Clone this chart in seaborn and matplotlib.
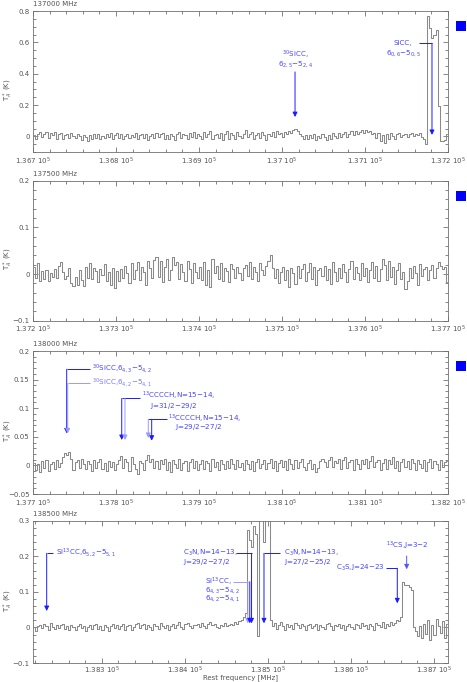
import numpy as np
import pandas as pd
import matplotlib
matplotlib.use('Agg')
import matplotlib.pyplot as plt
import seaborn as sns
from matplotlib.patches import Rectangle
from matplotlib.ticker import MultipleLocator, FuncFormatter

# band edges (MHz) and channel width
band_start = [136700, 137200, 137700, 138217]
band_label = ['137000 MHz', '137500 MHz', '138000 MHz', '138500 MHz']
chan_width = 2.5

# antenna temperature per channel (mK)
ta_137000 = [
    8, -20, 14, 25, -6, 18, 28, -12, 20, 6, 26, -15, 12, 22, -18, 10, 18, -8, 20, 3,
    -12, 15, 5, -22, 10, -4, -28, 6, -15, 12, -9, 16, -18, 5, -10, 14, -6, 20, -14, 8,
    24, -8, 15, -20, 4, 18, -12, 10, -4, 22, -16, 6, 17, -9, 12, -22, 5, 15, -10, 20,
    -6, 13, 24, -17, 8, -14, 18, 3, -24, 12, 26, -10, 15, 6, -19, 22, -4, 30, -12, 16,
    5, -16, 25, -7, 13, 32, -20, 10, 18, -9, 24, -26, 12, 35, -14, 20, 8, -17, 28, 4,
    -10, 18, 38, -5, 15, 26, -18, 7, 22, -12, 30, 10, -22, 16, 5, 25, -7, 34, 13, 20,
    -4, 26, 15, 36, 22, 40, 48, 35, 18, 3, -14, 10, -20, 7, -9, 15, -25, 5, -12, 16,
    -5, -22, 10, -15, 20, 4, -10, 23, -7, 13, 28, -4, 18, 32, 10, 36, 15, 26, 40, 22,
    42, 28, 34, 13, 24, -10, 20, -28, 7, -45, 16, -15, 24, 4, -20, 15, 22, -7, 10, 18,
    -5, 13, 21, 4, 15, 8, 20, -4, -14, -50, 770, 690, 625, 650, 680, 192, -32, -30, -24, 12,
]
ta_137500 = [
    14, -8, 24, -16, 6, -11, 8, -14, 3, -6, 11, -8, 18, 26, 4, -11, -4, 12, -20, -26,
    -7, -24, 8, -13, -25, 16, -8, 24, -11, 13, 6, -18, 11, -3, 21, -16, 4, -23, 12, -30,
    7, -16, 11, -8, 18, 3, -20, 23, -11, 8, 25, -13, 16, 5, -23, 27, 13, -8, 30, 36,
    -7, 28, -18, 16, 32, -13, 8, 37, 20, 25, -11, 21, 4, -16, 27, 11, -20, 23, 5, -8,
    16, -13, 25, -23, 8, -28, 32, 3, 18, -11, 23, -16, 13, 7, -18, 21, 11, -8, 16, 3,
    -13, 12, 20, -5, 25, -11, 16, 4, -16, 23, 8, -3, 18, 27, 40, 13, -8, 11, -20, 5,
    16, -13, 8, -28, 13, 3, -21, 18, -8, 11, 21, -16, 5, 23, -11, 16, -23, 8, 13, -5,
    18, -13, 11, -21, 25, 4, -16, 13, -8, 21, 5, -18, 11, 27, -11, 16, 3, -13, 23, -5,
    13, -18, 8, 25, -8, 18, -16, 11, 32, 20, -13, 27, -7, 16, -21, 8, 23, -11, 5, -32,
    -16, 13, -8, 18, 3, -23, 21, -5, 11, 16, -13, 8, 20, -8, 13, 26, 18, 11, 16, -18,
]
ta_138000 = [
    5, -8, 3, -12, 8, -4, 10, -10, 2, 6, -6, 9, -3, 4, 15, 22, 18, 24, 12, -8,
    6, 10, -5, 12, 3, -7, 8, 2, -9, 10, -4, 6, 12, -6, 4, -10, 8, -2, 6, -8,
    3, 10, 16, -4, 12, 6, -10, 14, 2, -6, -15, 8, 4, -8, 10, 18, 6, 12, -4, 8,
    -6, 10, 2, 12, -8, 6, -12, 9, 3, -5, 11, -8, 4, 7, -10, 6, 12, -4, 8, -8,
    2, 10, -6, 8, 4, -10, 12, -2, 6, -8, 10, 3, -6, 8, -4, 12, 2, -6, 9, -3,
    5, -8, 10, 2, -6, 8, -10, 6, 12, -4, 3, 9, -7, 5, 11, -5, 8, -9, 4, 10,
    -3, 7, -8, 12, 2, -6, 9, -4, 6, 11, -2, -8, 5, 10, -6, 3, -12, -4, 8, 12,
    6, -3, 10, 14, -2, 8, 4, 12, -6, 9, 15, -4, 6, 10, -8, 12, 3, -6, 9, 2,
    12, -5, 8, 16, -3, 6, 10, -8, 4, 12, -6, 9, 2, 14, -4, 8, -10, 6, 11, -2,
    7, -6, 12, 4, -8, 10, 2, -4, 9, -10, 6, 12, -5, 8, 3, -8, 10, -3, 6, 8,
]
ta_138500 = [
    2, -10, 5, 8, -3, 10, 4, -6, 12, 2, -4, 8, -2, 6, 10, -5, 3, -8, 6, 2,
    -6, 5, 9, -3, 4, -9, 2, 7, -5, 6, 10, -4, 3, -7, 8, 1, -10, 5, 9, -2,
    6, -4, 3, 10, -6, 4, 8, -8, 2, 9, 12, -3, 6, 11, -5, 8, 2, -6, 10, 5,
    -4, 12, 3, -2, 8, -6, 5, 10, -3, 7, 14, 2, -5, 9, 12, 4, -3, 8, 6, 10,
    2, 12, 5, -2, 9, 14, 6, 10, 2, -3, 8, 5, 12, 3, 7, 9, 6, 14, 10, 18,
    22, 28, 40, 275, 245, 225, 285, 262, -25, 305, 312, 240, 335, 330, 20, 5, 12, -4, 8, 15,
    3, -6, 10, 2, 8, -4, 12, 6, -2, 9, 4, -8, 7, 11, -3, 5, 10, -6, 8, 2,
    -4, 9, 12, 3, -6, 8, 5, 10, -2, 6, -8, 4, 11, 2, -5, 9, 6, -3, 12, 5,
    8, -4, 10, 3, -6, 12, 6, 2, 14, -3, 9, 5, 16, 8, 12, 20, 18, 28, 128, 120,
    118, 115, 105, 2, -10, -25, 5, -30, 10, -18, 20, -35, 8, -22, 25, 5, -15, 18, -30, 10,
]
spectra = [ta_137000, ta_137500, ta_138000, ta_138500]
y_limits = [(-0.1, 0.8), (-0.1, 0.2), (-0.05, 0.2), (-0.1, 0.3)]
y_major = [0.2, 0.1, 0.05, 0.1]
y_minor = [0.05, 0.02, 0.01, 0.02]

# line identifications (rest frequency, MHz)
freq_sicc30_625 = 137015.7
freq_sicc_606 = 137180.7
freq_sicc30_643 = 137740.6
freq_sicc30_642 = 137741.8
freq_c13_31 = [137806.9, 137810.8]
freq_c13_29 = [137838.9, 137843.0]
freq_si13cc_652 = 138233.5
freq_si13cc_64 = [138475.8, 138478.2]
freq_c3n_29 = 138480.3
freq_c3n_27 = 138495.3
freq_c3s = 138655.9
freq_13cs = 138667.2

BLUE = '#1a1aff'
LIGHT = '#9a9aff'
TXT = '#4444ff'
GREY = '#555555'
FS = 5
FS_NOTE = 5.1

sns.set_style('ticks')
plt.rcParams['font.family'] = ['DejaVu Sans']
plt.rcParams['axes.unicode_minus'] = True

W, H = 467, 682
fig = plt.figure(figsize=(W / 100, H / 100), dpi=100)

# axes boxes in pixels: (top, bottom)
boxes = [(11, 152), (180.7, 320.7), (351, 494), (520.7, 663)]
left_px, right_px = 33, 448

axes = []
for k, (top, bot) in enumerate(boxes):
    ax = fig.add_axes([left_px / W, 1 - bot / H, (right_px - left_px) / W, (bot - top) / H])
    axes.append(ax)
    freq = band_start[k] + chan_width * (np.arange(len(spectra[k])) + 0.5)
    df = pd.DataFrame({'freq': freq, 'ta': np.array(spectra[k]) / 1000.0})
    sns.lineplot(data=df, x='freq', y='ta', ax=ax, color='#8a8a8a', lw=0.75,
                 drawstyle='steps-mid', estimator=None)
    ax.set_xlim(band_start[k], band_start[k] + 500)
    ax.set_ylim(*y_limits[k])
    ax.xaxis.set_major_locator(MultipleLocator(100))
    ax.xaxis.set_minor_locator(MultipleLocator(20))
    ax.yaxis.set_major_locator(MultipleLocator(y_major[k]))
    ax.yaxis.set_minor_locator(MultipleLocator(y_minor[k]))
    ax.xaxis.set_major_formatter(FuncFormatter(lambda v, p: f'{v / 1e5:g} $10^5$'))
    ax.yaxis.set_major_formatter(FuncFormatter(lambda v, p: f'{v:g}'.replace('-', '\u2212')))
    ax.tick_params(which='both', direction='in', top=True, right=True,
                   labelsize=FS, colors=GREY, width=0.5, pad=2.5)
    ax.tick_params(which='major', length=3.5)
    ax.tick_params(which='minor', length=2)
    for s in ax.spines.values():
        s.set_color('#707070')
        s.set_linewidth(0.6)
    ax.set_xlabel('')
    ax.set_ylabel('')
    ymid = top + 0.56 * (bot - top)
    fig.text(8 / W, 1 - ymid / H, r'T$_A^*$ (K)', rotation=90, fontsize=FS,
             color=GREY, ha='center', va='center')
    ax.annotate(band_label[k], xy=(0, 1), xycoords='axes fraction', xytext=(0, 5),
                textcoords='offset points', fontsize=FS, color=GREY, va='center', ha='left')
    if k < 3:
        fig.add_artist(Rectangle((456 / W, 1 - (top + 20) / H), 10 / W, 10 / H,
                                 transform=fig.transFigure, color='#0000ff', lw=0))

axes[3].tick_params(axis='x', which='major', pad=1.5)
axes[3].set_xlabel('Rest frequency [MHz]', fontsize=FS, color=GREY)
axes[3].xaxis.set_label_coords(0.5, -0.082)


def note(ax, x, y, s, ha='left', color=TXT):
    ax.text(x, y, s, ha=ha, va='center', fontsize=FS_NOTE, color=color)


def bar(ax, x0, x1, y, color=BLUE):
    ax.plot([x0, x1], [y, y], color=color, lw=0.7, solid_capstyle='butt')


def arrow(ax, x, y0, y1, color=BLUE):
    ax.annotate('', xy=(x, y1), xytext=(x, y0),
                arrowprops=dict(arrowstyle='-|>', color=color, lw=0.7,
                                mutation_scale=7, shrinkA=0, shrinkB=0))


# 137000 MHz
ax = axes[0]
note(ax, freq_sicc30_625, 0.519, r'$^{30}$SiCC,', ha='center')
note(ax, freq_sicc30_625, 0.459, r'6$_{2,5}$$-$5$_{2,4}$', ha='center')
arrow(ax, freq_sicc30_625, 0.411, 0.123)
note(ax, 137146, 0.594, 'SiCC,', ha='center')
note(ax, 137146, 0.533, r'6$_{0,6}$$-$5$_{0,5}$', ha='center')
bar(ax, 137165, freq_sicc_606, 0.594)
arrow(ax, freq_sicc_606, 0.594, 0.009)

# 138000 MHz
ax = axes[2]
bar(ax, freq_sicc30_643, 137768.7, 0.168)
arrow(ax, freq_sicc30_643, 0.168, 0.056)
note(ax, 137771, 0.168, r'$^{30}$SiCC,6$_{4,3}$$-$5$_{4,2}$')
bar(ax, freq_sicc30_642, 137768.7, 0.1435, color=LIGHT)
arrow(ax, freq_sicc30_642, 0.1435, 0.056, color=LIGHT)
note(ax, 137771, 0.1435, r'$^{30}$SiCC,6$_{4,2}$$-$5$_{4,1}$', color='#7777ff')

bar(ax, freq_c13_31[0], 137829, 0.117)
arrow(ax, freq_c13_31[0], 0.117, 0.0444)
arrow(ax, freq_c13_31[1], 0.117, 0.0444, color=LIGHT)
note(ax, 137831, 0.1210, r'$^{13}$CCCCH,N=15$-$14,')
note(ax, 137841, 0.1035, r'J=31/2$-$29/2')

bar(ax, freq_c13_29[0], 137861, 0.0806)
arrow(ax, freq_c13_29[0], 0.0806, 0.048, color=LIGHT)
arrow(ax, freq_c13_29[1], 0.0806, 0.0432)
note(ax, 137863, 0.0815, r'$^{13}$CCCCH,N=15$-$14,')
note(ax, 137871, 0.0675, r'J=29/2$-$27/2')

# 138500 MHz
ax = axes[3]
bar(ax, freq_si13cc_652, 138240.7, 0.2083)
arrow(ax, freq_si13cc_652, 0.2083, 0.0462)
note(ax, 138244.7, 0.2083, r'Si$^{13}$CC,6$_{5,2}$$-$5$_{5,1}$')

note(ax, 138397.4, 0.2083, r'C$_3$N,N=14$-$13,')
note(ax, 138397.4, 0.1830, r'J=29/2$-$27/2')
bar(ax, 138461, freq_c3n_29, 0.2083)
arrow(ax, freq_c3n_29, 0.2083, 0.0116)

note(ax, 138424.2, 0.1290, r'Si$^{13}$CC,')
note(ax, 138424.2, 0.1060, r'6$_{4,3}$$-$5$_{4,2}$')
note(ax, 138424.2, 0.0820, r'6$_{4,2}$$-$5$_{4,1}$')
bar(ax, 138457.5, freq_si13cc_64[0], 0.1285, color=LIGHT)
arrow(ax, freq_si13cc_64[0], 0.1285, 0.0116, color=LIGHT)
arrow(ax, freq_si13cc_64[1], 0.1285, 0.0116)

bar(ax, freq_c3n_27, 138514, 0.2083)
arrow(ax, freq_c3n_27, 0.2083, 0.0116)
note(ax, 138519.8, 0.2083, r'C$_3$N,N=14$-$13,')
note(ax, 138519.8, 0.1830, r'J=27/2$-$25/2')

note(ax, 138641, 0.1662, r'C$_3$S,J=24$-$23', ha='right')
bar(ax, 138642, freq_c3s, 0.1662)
arrow(ax, freq_c3s, 0.1662, 0.0678)

note(ax, 138668, 0.2289, r'$^{13}$CS,J=3$-$2', ha='center')
arrow(ax, freq_13cs, 0.2008, 0.1634, color='#5555ff')

fig.savefig('out.png', dpi=100)
